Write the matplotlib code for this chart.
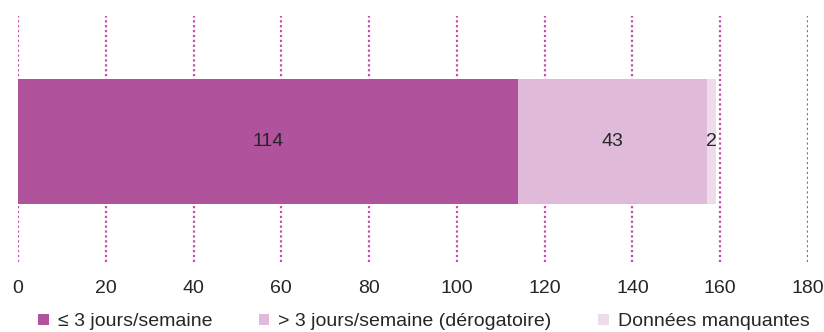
import matplotlib
matplotlib.use("Agg")
import matplotlib.pyplot as plt

plt.rcParams['font.family'] = ['Liberation Sans', 'DejaVu Sans']

categories = ["≤ 3 jours/semaine", "> 3 jours/semaine (dérogatoire)", "Données manquantes"]
values = [114, 43, 2]
colors = ["#B0529C", "#E0BAD9", "#EEDCEB"]
xticks = [0, 20, 40, 60, 80, 100, 120, 140, 160, 180]

fig = plt.figure(figsize=(8.24, 3.32), dpi=100)
ax = fig.add_axes([0.0218, 0.211, 0.9588, 0.741])

left = 0
for cat, val, col in zip(categories, values, colors):
    ax.barh(0, val, left=left, height=0.508, color=col, label=cat, zorder=2)
    ax.text(left + val / 2, 0, str(val), ha="center", va="center",
            fontsize=14, color="#262626", zorder=3)
    left += val

ax.set_xlim(0, 180)
ax.set_ylim(-0.49, 0.51)
ax.set_xticks(xticks)
ax.set_yticks([])
ax.tick_params(axis="x", length=0, pad=13, labelsize=14, labelcolor="#262626")
ax.xaxis.grid(True, color="#C44EAC", linestyle=(0, (1, 1.2)), linewidth=1.6, zorder=1)
for s in ax.spines.values():
    s.set_visible(False)

fig.legend(loc="lower left", bbox_to_anchor=(0.025, -0.048), ncol=3, frameon=False,
           fontsize=14, handlelength=0.55, handleheight=0.55, handletextpad=0.45,
           columnspacing=2.4, labelcolor="#262626")

fig.savefig("out.png", dpi=100)
